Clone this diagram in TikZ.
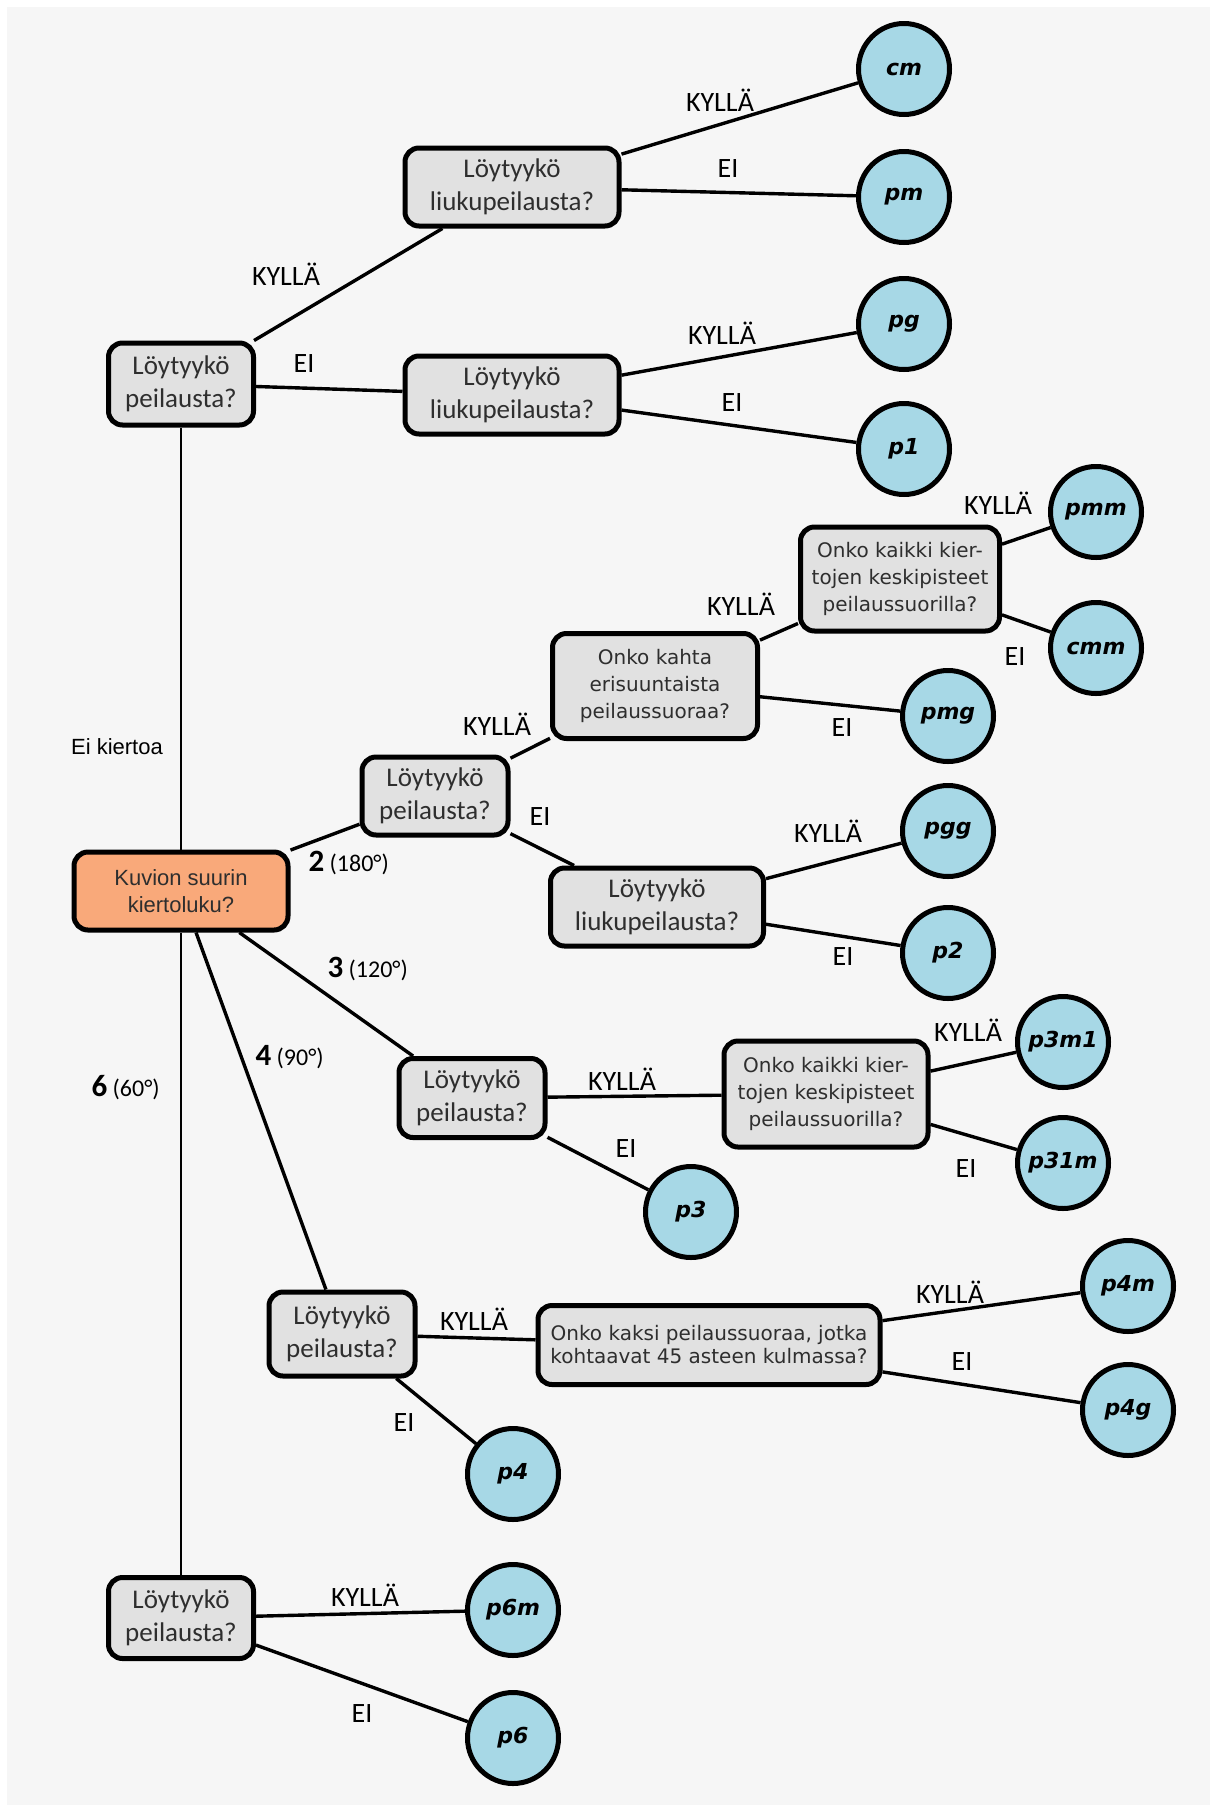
\documentclass[tikz,border=0pt]{standalone}
\usepackage{fontspec}
\setmainfont{Carlito}
\newfontfamily\verdfont{DejaVu Sans}
\newfontfamily\arialfont{Liberation Sans}
\definecolor{bggrey}{HTML}{F6F6F6}
\definecolor{boxgrey}{HTML}{E1E1E1}
\definecolor{startorange}{HTML}{F9A97A}
\definecolor{leafblue}{HTML}{A7D8E6}
\definecolor{txtgrey}{HTML}{2E2E2E}

\begin{document}
\begin{tikzpicture}[x=1pt,y=-1pt]
%%%%%%%%%%%%%%%%%%%%%%%%%%%%%%%%%%%%%%%%%%%%%%%%%%%%%%%%
% STYLE
\tikzstyle{ask}=[rectangle,rounded corners=14pt,draw,line width=5pt,fill=boxgrey,align=center,text=txtgrey,inner sep=0pt,font=\fontsize{27}{33}\selectfont]
\tikzstyle{askv}=[ask,font=\verdfont\fontsize{20}{27}\selectfont]
\tikzstyle{start}=[ask,fill=startorange,font=\arialfont\fontsize{22}{27}\selectfont]
\tikzstyle{leaf}=[circle,draw,line width=5pt,fill=leafblue,minimum size=91pt,inner sep=0pt,font=\verdfont\bfseries\itshape\fontsize{22}{26}\selectfont]
\tikzstyle{txt}=[font=\fontsize{28}{30}\selectfont]
\tikzstyle{rotlbl}=[anchor=west,font=\fontsize{24}{26}\selectfont]

\tikzset{link/.style={line width=3.4pt}, trunk/.style={line width=2.6pt}}

% BACKGROUND
\fill[white] (0,0) rectangle (1210,1805);
\fill[bggrey] (7,7) rectangle (1210,1805);
\useasboundingbox (0,0) rectangle (1210,1805);

%%%%%%%%%%%%%%%%%%%%%%%%%%%%%%%%%%%%%%%%%%%%%%%%%%%%%%%%
% NODES
\node[start,minimum width=214pt,minimum height=78pt] (R) at (181,891) {Kuvion suurin\\kiertoluku?};

\node[ask,minimum width=145pt,minimum height=82pt] (L1) at (181,384) {Löytyykö\\peilausta?};
\node[ask,minimum width=214pt,minimum height=78pt] (G1) at (512,187) {Löytyykö\\liukupeilausta?};
\node[ask,minimum width=214pt,minimum height=78pt] (G2) at (512,395) {Löytyykö\\liukupeilausta?};
\node[leaf] (cm) at (904,69) {cm};
\node[leaf] (pm) at (904,197) {pm};
\node[leaf] (pg) at (904,324) {pg};
\node[leaf] (p1) at (904,449) {p1};

\node[ask,minimum width=146pt,minimum height=78pt] (L2) at (435,796) {Löytyykö\\peilausta?};
\node[askv,minimum width=205pt,minimum height=105pt] (Q2) at (655,686) {Onko kahta\\erisuuntaista\\peilaussuoraa?};
\node[askv,minimum width=199pt,minimum height=104pt] (Q1) at (900,579) {Onko kaikki kier-\\tojen keskipisteet\\peilaussuorilla?};
\node[leaf] (pmm) at (1096,512) {pmm};
\node[leaf] (cmm) at (1096,648) {cmm};
\node[leaf] (pmg) at (948,716) {pmg};
\node[ask,minimum width=213pt,minimum height=78pt] (G3) at (657,907) {Löytyykö\\liukupeilausta?};
\node[leaf] (pgg) at (948,831) {pgg};
\node[leaf] (p2) at (948,953) {p2};

\node[ask,minimum width=146pt,minimum height=79pt] (L3) at (472,1098) {Löytyykö\\peilausta?};
\node[askv,minimum width=204pt,minimum height=106pt] (Q3) at (826,1094) {Onko kaikki kier-\\tojen keskipisteet\\peilaussuorilla?};
\node[leaf] (p3m1) at (1063,1042) {p3m1};
\node[leaf] (p31m) at (1063,1163) {p31m};
\node[leaf] (p3) at (691,1212) {p3};

\node[ask,minimum width=146pt,minimum height=84pt] (L4) at (342,1334) {Löytyykö\\peilausta?};
\node[askv,minimum width=342pt,minimum height=79pt,font=\verdfont\fontsize{20}{23}\selectfont] (Q4) at (709,1345) {Onko kaksi peilaussuoraa, jotka\\kohtaavat 45 asteen kulmassa?};
\node[leaf] (p4m) at (1128,1286) {p4m};
\node[leaf] (p4g) at (1128,1410) {p4g};
\node[leaf] (p4) at (513,1474) {p4};

\node[ask,minimum width=145pt,minimum height=81pt] (L6) at (181,1618) {Löytyykö\\peilausta?};
\node[leaf] (p6m) at (513,1610) {p6m};
\node[leaf] (p6) at (513,1738) {p6};

% labels
\node[font=\arialfont\fontsize{22}{24}\selectfont] (none) at (117,747) {Ei kiertoa};
\node[rotlbl] (rot2) at (305,863) {{\fontsize{31}{32}\selectfont\bfseries 2} (180°)};
\node[rotlbl] (rot3) at (324,969) {{\fontsize{31}{32}\selectfont\bfseries 3} (120°)};
\node[rotlbl] (rot4) at (252,1057) {{\fontsize{31}{32}\selectfont\bfseries 4} (90°)};
\node[rotlbl] (rot6) at (88,1088) {{\fontsize{31}{32}\selectfont\bfseries 6} (60°)};

\node[txt] (y1) at (286,274) {KYLLÄ};
\node[txt] (n1) at (304,364) {EI};
\node[txt] (y11) at (720,100) {KYLLÄ};
\node[txt] (n11) at (728,169) {EI};
\node[txt] (y12) at (722,333) {KYLLÄ};
\node[txt] (n12) at (732,403) {EI};

\node[txt] (y2) at (497,724) {KYLLÄ};
\node[txt] (n2) at (540,817) {EI};
\node[txt] (y21) at (741,604) {KYLLÄ};
\node[txt] (n21) at (842,728) {EI};
\node[txt] (y22) at (998,503) {KYLLÄ};
\node[txt] (n22) at (1015,657) {EI};
\node[txt] (y23) at (828,831) {KYLLÄ};
\node[txt] (n23) at (843,957) {EI};

\node[txt] (y3) at (622,1079) {KYLLÄ};
\node[txt] (n3) at (626,1149) {EI};
\node[txt] (y31) at (968,1030) {KYLLÄ};
\node[txt] (n31) at (966,1169) {EI};

\node[txt] (y4) at (474,1319) {KYLLÄ};
\node[txt] (n4) at (404,1422) {EI};
\node[txt] (y41) at (950,1292) {KYLLÄ};
\node[txt] (n41) at (962,1361) {EI};

\node[txt] (y6) at (365,1595) {KYLLÄ};
\node[txt] (n6) at (362,1713) {EI};

%%%%%%%%%%%%%%%%%%%%%%%%%%%%%%%%%%%%%%%%%%%%%%%%%%%%%%%%
% LINKS
\draw[trunk] (R) -- (L1);
\draw[trunk] (R) -- (L6);
\draw[link] (R) -- (L2);
\draw[link] (R) -- (L3);
\draw[link] (R) -- (L4);

\draw[link] (L1) -- (G1);
\draw[link] (L1) -- (G2);
\draw[link] (G1) -- (cm);
\draw[link] (G1) -- (pm);
\draw[link] (G2) -- (pg);
\draw[link] (G2) -- (p1);

\draw[link] (L2) -- (Q2);
\draw[link] (L2) -- (G3);
\draw[link] (Q2) -- (Q1);
\draw[link] (Q2) -- (pmg);
\draw[link] (Q1) -- (pmm);
\draw[link] (Q1) -- (cmm);
\draw[link] (G3) -- (pgg);
\draw[link] (G3) -- (p2);

\draw[link] (L3) -- (Q3);
\draw[link] (L3) -- (p3);
\draw[link] (Q3) -- (p3m1);
\draw[link] (Q3) -- (p31m);

\draw[link] (L4) -- (Q4);
\draw[link] (L4) -- (p4);
\draw[link] (Q4) -- (p4m);
\draw[link] (Q4) -- (p4g);

\draw[link] (L6) -- (p6m);
\draw[link] (L6) -- (p6);
\end{tikzpicture}
\end{document}
